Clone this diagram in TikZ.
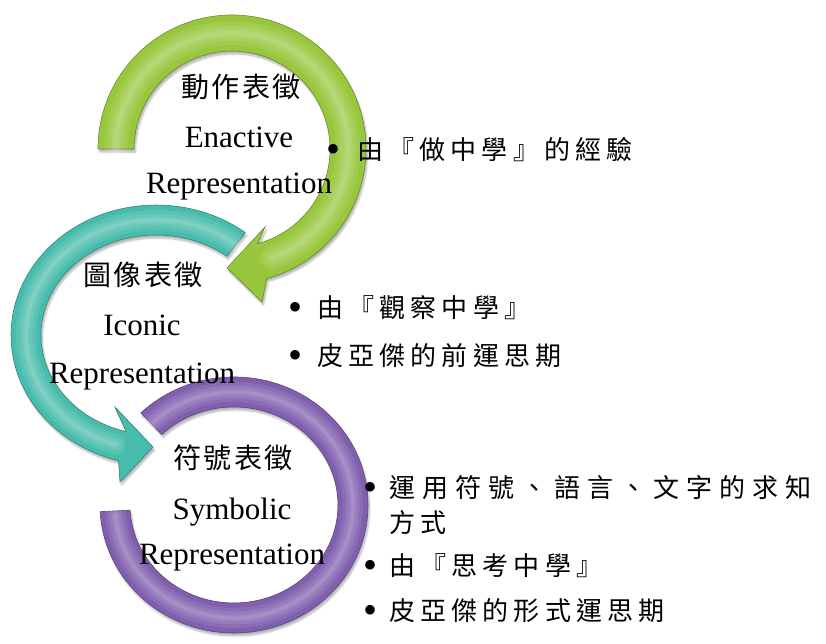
\documentclass[tikz,border=0pt]{standalone}
\usepackage{fontspec}
\setmainfont{Liberation Serif}
\newfontfamily\cjktitle{Noto Sans CJK TC}[LetterSpace=8]
\newfontfamily\cjkbul{Noto Sans CJK TC}[LetterSpace=20]
\newfontfamily\cjkwide{Noto Sans CJK TC}[LetterSpace=27]
\usetikzlibrary{shadows.blur}
\definecolor{grn}{RGB}{152,198,60}
\definecolor{tea}{RGB}{72,188,172}
\definecolor{pur}{RGB}{128,95,175}
\begin{document}
\begin{tikzpicture}[x=1pt,y=1pt,
  ring/.style={fill=#1, draw=#1!70!black, line width=0.6pt,
    blur shadow={shadow xshift=1.5pt, shadow yshift=-3pt, shadow opacity=30, shadow blur steps=6}},
  shine/.style={draw=white, opacity=0.09, line width=#1, line cap=round},
  ttl/.style={inner sep=0, anchor=base, font=\cjktitle\fontsize{28}{28}\selectfont},
  lat/.style={inner sep=0, anchor=base, font=\fontsize{31}{31}\selectfont},
  bul/.style={inner sep=0, anchor=base, font=\fontsize{40}{40}\selectfont},
  btxt/.style={inner sep=0, anchor=base west, font=\cjkbul\fontsize{26}{26}\selectfont},
  bwide/.style={inner sep=0, anchor=base west, font=\cjkwide\fontsize{26}{26}\selectfont}]
\useasboundingbox (0,0) rectangle (826,643);

% green ring (enactive)
\path[ring=grn] (98,494) arc[start angle=180,end angle=-75,radius=134]
  -- (262,341) -- (227,375) -- (265,416) -- (257.4,399.3)
  arc[start angle=-75,end angle=180,radius=98] -- cycle;
\foreach \w in {24,16,9,4}
  \draw[shine=\w pt] (116,494) arc[start angle=180,end angle=-70,radius=116];

% teal ring (iconic)
\path[ring=tea] (245.3,410.4) arc[start angle=52,end angle=255,x radius=145,y radius=130]
  -- (120,161) -- (153,196) -- (115,236) -- (126.2,211.4)
  arc[start angle=255,end angle=52,x radius=115,y radius=100] -- cycle;
\foreach \w in {20,13,7,3}
  \draw[shine=\w pt] (236.0,398.6) arc[start angle=52,end angle=252,x radius=130,y radius=115];

% purple ring (symbolic)
\path[ring=pur] (140.9,230.1) arc[start angle=134,end angle=-177,x radius=134,y radius=128]
  -- (130.1,132.9) arc[start angle=-177,end angle=134,x radius=104,y radius=98] -- cycle;
\foreach \w in {20,13,7,3}
  \draw[shine=\w pt] (151.3,219.3) arc[start angle=134,end angle=-175,x radius=119,y radius=113];

% labels
\node[ttl] (t1) at (241,545) {動作表徵};
\node[lat] (e1) at (239,495) {Enactive};
\node[lat] (r1) at (239,449) {Representation};

\node[ttl] (t2) at (143,357) {圖像表徵};
\node[lat] (e2) at (142,308) {Iconic};
\node[lat] (r2) at (142,260) {Representation};

\node[ttl] (t3) at (233,175) {符號表徵};
\node[lat] (e3) at (232,124) {Symbolic};
\node[lat] (r3) at (232,79) {Representation};

% bullets
\node[bul] (b1) at (333,480) {•};
\node[btxt] (x1) at (357,483) {由『做中學』的經驗};

\node[bul] (b2) at (295,322) {•};
\node[btxt] (x2) at (317,325) {由『觀察中學』};
\node[bul] (b3) at (295,275) {•};
\node[btxt] (x3) at (317,278) {皮亞傑的前運思期};

\node[bul] (b4) at (370,143) {•};
\node[bwide] (x4) at (389,146) {運用符號、語言、文字的求知};
\node[btxt] (x4b) at (389,111) {方式};
\node[bul] (b5) at (370,65) {•};
\node[btxt] (x5) at (389,68) {由『思考中學』};
\node[bul] (b6) at (370,20) {•};
\node[btxt] (x6) at (389,23) {皮亞傑的形式運思期};
\end{tikzpicture}
\end{document}
